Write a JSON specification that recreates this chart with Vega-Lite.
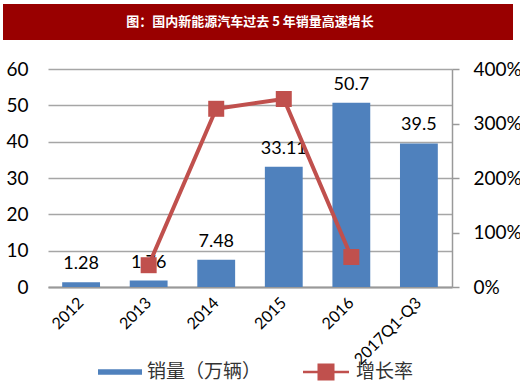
{
  "$schema": "https://vega.github.io/schema/vega-lite/v6.json",
  "padding": {"left": 3, "top": 4, "right": 0, "bottom": 0},
  "background": "white",
  "spacing": 20,
  "config": {"view": {"stroke": null}, "font": "Lato"},
  "vconcat": [
    {
      "width": 510,
      "height": 36,
      "view": {"fill": "#990000", "stroke": null},
      "data": {"values": [{"t": "图：国内新能源汽车过去 5 年销量高速增长"}]},
      "mark": {"type": "text", "color": "white", "font": "Noto Sans CJK SC", "fontWeight": "bold", "fontSize": 13, "dx": -8},
      "encoding": {"text": {"field": "t"}}
    },
    {
      "data": {"values": [
        {"year": "2012", "sales": 1.28, "growth": null},
        {"year": "2013", "sales": 1.76, "growth": 0.40},
        {"year": "2014", "sales": 7.48, "growth": 3.27},
        {"year": "2015", "sales": 33.11, "growth": 3.45},
        {"year": "2016", "sales": 50.7, "growth": 0.55},
        {"year": "2017Q1-Q3", "sales": 39.5, "growth": null}
      ]},
      "spacing": 20,
      "hconcat": [
        {
          "width": 1,
          "height": 218,
          "mark": {"type": "rule", "opacity": 0},
          "encoding": {
            "y": {
              "field": "sales", "type": "quantitative",
              "scale": {"domain": [0, 60], "nice": false},
              "axis": {"title": null, "orient": "right", "values": [0, 10, 20, 30, 40, 50, 60], "grid": false, "domain": false, "ticks": false, "labelAlign": "right", "labelFontSize": 19, "labelPadding": 24, "labelColor": "#000"}
            }
          }
        },
        {
          "width": 404,
          "height": 218,
          "encoding": {
            "x": {
              "field": "year", "type": "nominal", "sort": null,
              "scale": {"domain": ["2012", "2013", "2014", "2015", "2016", "2017Q1-Q3"], "paddingInner": 0.44, "paddingOuter": 0.21},
              "axis": {"title": null, "labelAngle": -45, "labelFontSize": 16, "labelColor": "#000", "ticks": false, "domain": true, "domainColor": "#999999", "domainWidth": 2, "labelPadding": 13, "labelAlign": "right", "labelBaseline": "middle"}
            }
          },
          "layer": [
            {
              "encoding": {
                "y": {
                  "field": "sales", "type": "quantitative",
                  "scale": {"domain": [0, 60], "nice": false},
                  "axis": {"title": null, "values": [0, 10, 20, 30, 40, 50, 60], "grid": true, "gridColor": "#a6a6a6", "gridWidth": 1.5, "domain": false, "ticks": false, "labels": false}
                }
              },
              "layer": [
                {
                  "mark": {"type": "bar", "color": "#4f81bd"},
                  "encoding": {
                    "color": {
                      "datum": "销量（万辆）",
                      "scale": {"range": ["#4f81bd"]},
                      "legend": {
                        "title": null, "orient": "none", "legendX": 50, "legendY": 281,
                        "symbolType": "M-1,-0.125H1V0.125H-1Z", "symbolSize": 1936, "symbolStrokeWidth": 0,
                        "labelFont": "Noto Sans CJK SC", "labelFontSize": 19, "labelColor": "#333333", "labelOffset": 5
                      }
                    }
                  }
                },
                {
                  "mark": {"type": "text", "fontSize": 18, "color": "#000", "dy": -18, "baseline": "middle"},
                  "encoding": {"text": {"field": "sales", "type": "quantitative"}}
                }
              ]
            },
            {
              "transform": [{"filter": "datum.growth != null"}],
              "encoding": {
                "y": {
                  "field": "growth", "type": "quantitative",
                  "scale": {"domain": [0, 4], "nice": false},
                  "axis": {"title": null, "orient": "right", "values": [0, 1, 2, 3, 4], "format": ".0%", "grid": false, "domain": true, "domainColor": "#999999", "domainWidth": 1.5, "ticks": true, "tickSize": 7, "tickColor": "#999999", "tickWidth": 1.5, "labelFontSize": 19, "labelPadding": 14, "labelColor": "#000"}
                }
              },
              "layer": [
                {
                  "mark": {"type": "line", "color": "#c0504d", "strokeWidth": 4}
                },
                {
                  "mark": {"type": "point", "shape": "square", "filled": true, "opacity": 1, "size": 256},
                  "encoding": {
                    "color": {
                      "datum": "增长率",
                      "scale": {"range": ["#c0504d"]},
                      "legend": {
                        "title": null, "orient": "none", "legendX": 255, "legendY": 280,
                        "symbolType": "M-1,-0.055H-0.37V-0.37H0.37V-0.055H1V0.055H0.37V0.37H-0.37V0.055H-1Z", "symbolSize": 2116, "symbolStrokeWidth": 0, "symbolOpacity": 1,
                        "labelFont": "Noto Sans CJK SC", "labelFontSize": 19, "labelColor": "#333333", "labelOffset": 7
                      }
                    }
                  }
                }
              ]
            }
          ],
          "resolve": {"scale": {"y": "independent", "color": "independent"}}
        }
      ]
    }
  ]
}
